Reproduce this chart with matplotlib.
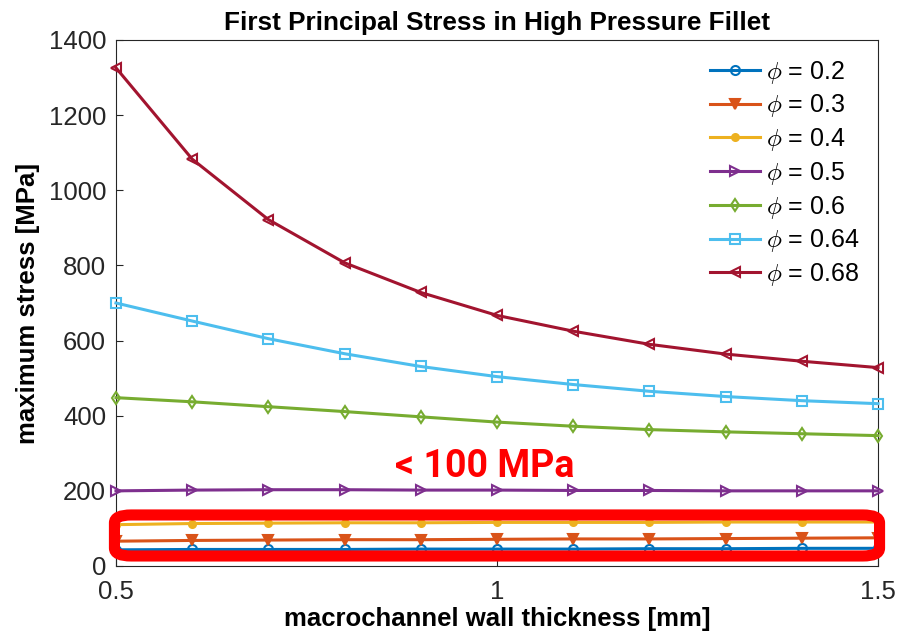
import matplotlib
matplotlib.use("Agg")
import matplotlib.pyplot as plt
from matplotlib.patches import FancyBboxPatch

plt.rcParams['font.family'] = ['Liberation Sans', 'DejaVu Sans']
plt.rcParams['mathtext.fontset'] = 'cm'

thickness = [0.5, 0.6, 0.7, 0.8, 0.9, 1.0, 1.1, 1.2, 1.3, 1.4, 1.5]
phi_labels = ['0.2', '0.3', '0.4', '0.5', '0.6', '0.64', '0.68']
s_02 = [43, 44, 44, 44, 45, 45, 45, 46, 46, 47, 47]
s_03 = [66, 68, 69, 70, 70, 71, 72, 72, 73, 74, 75]
s_04 = [110, 113, 114, 115, 115, 116, 116, 116, 117, 117, 117]
s_05 = [200, 202, 203, 203, 202, 202, 201, 201, 200, 200, 200]
s_06 = [448, 437, 424, 411, 397, 383, 372, 363, 357, 352, 347]
s_064 = [700, 652, 605, 565, 531, 504, 483, 465, 451, 440, 432]
s_068 = [1326, 1083, 922, 807, 728, 667, 625, 590, 564, 545, 528]
series = [s_02, s_03, s_04, s_05, s_06, s_064, s_068]
colors = ['#0072BD', '#D95319', '#EDB120', '#7E2F8E', '#77AC30', '#4DBEEE', '#A2142F']
markers = ['o', 'v', '.', '>', 'd', 's', '<']
filled = [False, True, True, False, False, False, False]

fig = plt.figure(figsize=(9.11, 6.42), dpi=100)
ax = fig.add_axes([0.1273, 0.1184, 0.8365, 0.8193])

for ys, c, m, f, lab in zip(series, colors, markers, filled, phi_labels):
    ax.plot(thickness, ys, color=c, marker=m, lw=2.2,
            markersize=10 if m == '.' else 6.5, markeredgewidth=1.5,
            markerfacecolor=c if f else 'none', markeredgecolor=c,
            label=r'$\phi$ = ' + lab, clip_on=False, zorder=3)

ax.set_xlim(0.5, 1.5)
ax.set_ylim(0, 1400)
ax.set_xticks([0.5, 1.0, 1.5])
ax.set_xticklabels(['0.5', '1', '1.5'])
ax.set_yticks(range(0, 1401, 200))
ax.tick_params(direction='in', labelsize=18.5, colors='#262626', length=5)
ax.tick_params(axis='x', pad=10)
ax.tick_params(axis='y', pad=7)
for sp in ax.spines.values():
    sp.set_color('#262626')
    sp.set_linewidth(0.8)

ax.set_title('First Principal Stress in High Pressure Fillet', fontsize=18.8, fontweight='bold', pad=7)
ax.set_xlabel('macrochannel wall thickness [mm]', fontsize=18.5, fontweight='bold', labelpad=2)
ax.set_ylabel('maximum stress [MPa]', fontsize=18.5, fontweight='bold', labelpad=6)

leg = ax.legend(loc='upper right', fontsize=18, frameon=False, handlelength=2.0,
                handletextpad=0.25, labelspacing=0.27, borderaxespad=0.35)

rect = FancyBboxPatch((-0.002, 0.019), 1.004, 0.078,
                      boxstyle='round,pad=0,rounding_size=0.022',
                      transform=ax.transAxes, fill=False, edgecolor='#FF0000',
                      linewidth=8, clip_on=False, zorder=5,
                      mutation_aspect=526/762)
ax.add_patch(rect)
ax.text(0.484, 0.19, '< 100 MPa', transform=ax.transAxes, color='#FF0000',
        fontsize=27, fontweight='bold', family=['Roboto', 'DejaVu Sans'],
        ha='center', va='center')

fig.savefig('out.png', dpi=100)
